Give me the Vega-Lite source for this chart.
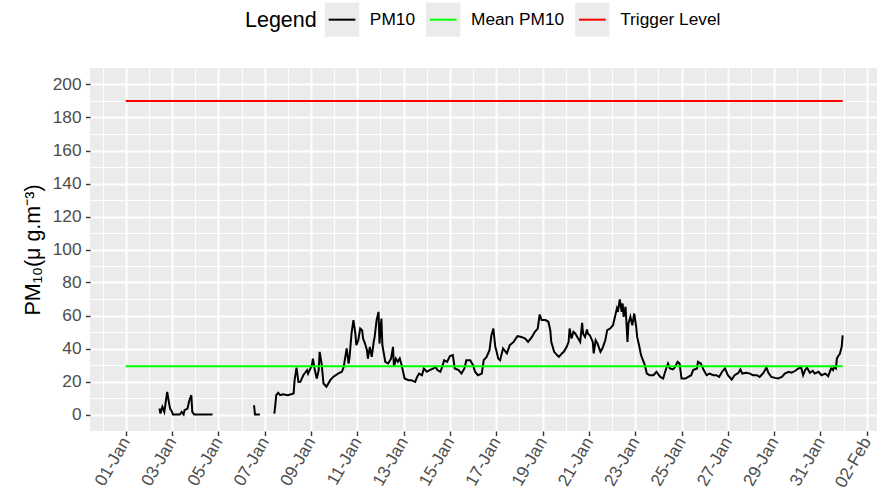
{
  "$schema": "https://vega.github.io/schema/vega-lite/v6.json",
  "autosize": {"type": "none"},
  "width": 787,
  "height": 363,
  "padding": {"left": 90, "top": 68, "right": 0, "bottom": 66},
  "background": "white",
  "config": {
    "font": "Liberation Sans",
    "view": {"fill": "#EBEBEB", "stroke": null}
  },
  "data": {"values": [
      {"t":"2021-01-02T11:00","v":3.6,"series":"PM10","seg":"a"},
      {"t":"2021-01-02T12:00","v":0.6,"series":"PM10","seg":"a"},
      {"t":"2021-01-02T14:00","v":4.6,"series":"PM10","seg":"a"},
      {"t":"2021-01-02T16:00","v":1.6,"series":"PM10","seg":"a"},
      {"t":"2021-01-02T18:00","v":9.7,"series":"PM10","seg":"a"},
      {"t":"2021-01-02T19:00","v":13.7,"series":"PM10","seg":"a"},
      {"t":"2021-01-02T21:00","v":6.6,"series":"PM10","seg":"a"},
      {"t":"2021-01-02T22:00","v":3.6,"series":"PM10","seg":"a"},
      {"t":"2021-01-03T00:00","v":1.6,"series":"PM10","seg":"a"},
      {"t":"2021-01-03T01:00","v":0,"series":"PM10","seg":"a"},
      {"t":"2021-01-03T08:00","v":0,"series":"PM10","seg":"a"},
      {"t":"2021-01-03T10:00","v":1.6,"series":"PM10","seg":"a"},
      {"t":"2021-01-03T12:00","v":0,"series":"PM10","seg":"a"},
      {"t":"2021-01-03T13:00","v":2.6,"series":"PM10","seg":"a"},
      {"t":"2021-01-03T16:00","v":3.6,"series":"PM10","seg":"a"},
      {"t":"2021-01-03T18:00","v":8.6,"series":"PM10","seg":"a"},
      {"t":"2021-01-03T20:00","v":11.7,"series":"PM10","seg":"a"},
      {"t":"2021-01-03T21:00","v":1.6,"series":"PM10","seg":"a"},
      {"t":"2021-01-03T23:00","v":0,"series":"PM10","seg":"a"},
      {"t":"2021-01-04T18:00","v":0,"series":"PM10","seg":"a"},
      {"t":"2021-01-06T13:00","v":5.6,"series":"PM10","seg":"b"},
      {"t":"2021-01-06T14:00","v":0,"series":"PM10","seg":"b"},
      {"t":"2021-01-06T19:00","v":0,"series":"PM10","seg":"b"},
      {"t":"2021-01-07T10:00","v":0.6,"series":"PM10","seg":"c"},
      {"t":"2021-01-07T11:00","v":5.6,"series":"PM10","seg":"c"},
      {"t":"2021-01-07T12:00","v":11.7,"series":"PM10","seg":"c"},
      {"t":"2021-01-07T14:00","v":13.1,"series":"PM10","seg":"c"},
      {"t":"2021-01-07T16:00","v":11.7,"series":"PM10","seg":"c"},
      {"t":"2021-01-07T19:00","v":12.3,"series":"PM10","seg":"c"},
      {"t":"2021-01-08T00:00","v":11.7,"series":"PM10","seg":"c"},
      {"t":"2021-01-08T06:00","v":12.7,"series":"PM10","seg":"c"},
      {"t":"2021-01-08T07:00","v":20.7,"series":"PM10","seg":"c"},
      {"t":"2021-01-08T09:00","v":28.4,"series":"PM10","seg":"c"},
      {"t":"2021-01-08T11:00","v":19.7,"series":"PM10","seg":"c"},
      {"t":"2021-01-08T13:00","v":19.8,"series":"PM10","seg":"c"},
      {"t":"2021-01-08T16:00","v":23.8,"series":"PM10","seg":"c"},
      {"t":"2021-01-08T20:00","v":26.9,"series":"PM10","seg":"c"},
      {"t":"2021-01-08T21:00","v":24.8,"series":"PM10","seg":"c"},
      {"t":"2021-01-09T01:00","v":29.9,"series":"PM10","seg":"c"},
      {"t":"2021-01-09T02:00","v":33.9,"series":"PM10","seg":"c"},
      {"t":"2021-01-09T04:00","v":26.9,"series":"PM10","seg":"c"},
      {"t":"2021-01-09T06:00","v":21.8,"series":"PM10","seg":"c"},
      {"t":"2021-01-09T08:00","v":26.9,"series":"PM10","seg":"c"},
      {"t":"2021-01-09T09:00","v":38,"series":"PM10","seg":"c"},
      {"t":"2021-01-09T11:00","v":30.9,"series":"PM10","seg":"c"},
      {"t":"2021-01-09T13:00","v":18.8,"series":"PM10","seg":"c"},
      {"t":"2021-01-09T16:00","v":16.8,"series":"PM10","seg":"c"},
      {"t":"2021-01-09T20:00","v":20.8,"series":"PM10","seg":"c"},
      {"t":"2021-01-09T23:00","v":22.8,"series":"PM10","seg":"c"},
      {"t":"2021-01-10T04:00","v":24.8,"series":"PM10","seg":"c"},
      {"t":"2021-01-10T08:00","v":25.9,"series":"PM10","seg":"c"},
      {"t":"2021-01-10T10:00","v":28.9,"series":"PM10","seg":"c"},
      {"t":"2021-01-10T11:00","v":32.9,"series":"PM10","seg":"c"},
      {"t":"2021-01-10T13:00","v":40,"series":"PM10","seg":"c"},
      {"t":"2021-01-10T15:00","v":30.9,"series":"PM10","seg":"c"},
      {"t":"2021-01-10T16:00","v":34.9,"series":"PM10","seg":"c"},
      {"t":"2021-01-10T18:00","v":49,"series":"PM10","seg":"c"},
      {"t":"2021-01-10T20:00","v":57.2,"series":"PM10","seg":"c"},
      {"t":"2021-01-10T22:00","v":49,"series":"PM10","seg":"c"},
      {"t":"2021-01-10T23:00","v":42,"series":"PM10","seg":"c"},
      {"t":"2021-01-11T01:00","v":45,"series":"PM10","seg":"c"},
      {"t":"2021-01-11T03:00","v":52.1,"series":"PM10","seg":"c"},
      {"t":"2021-01-11T05:00","v":51.1,"series":"PM10","seg":"c"},
      {"t":"2021-01-11T06:00","v":46,"series":"PM10","seg":"c"},
      {"t":"2021-01-11T08:00","v":43,"series":"PM10","seg":"c"},
      {"t":"2021-01-11T10:00","v":39,"series":"PM10","seg":"c"},
      {"t":"2021-01-11T11:00","v":33.9,"series":"PM10","seg":"c"},
      {"t":"2021-01-11T13:00","v":41,"series":"PM10","seg":"c"},
      {"t":"2021-01-11T15:00","v":34.9,"series":"PM10","seg":"c"},
      {"t":"2021-01-11T17:00","v":44,"series":"PM10","seg":"c"},
      {"t":"2021-01-11T18:00","v":47,"series":"PM10","seg":"c"},
      {"t":"2021-01-11T20:00","v":57.2,"series":"PM10","seg":"c"},
      {"t":"2021-01-11T22:00","v":62.2,"series":"PM10","seg":"c"},
      {"t":"2021-01-11T23:00","v":43,"series":"PM10","seg":"c"},
      {"t":"2021-01-12T01:00","v":58.2,"series":"PM10","seg":"c"},
      {"t":"2021-01-12T02:00","v":42,"series":"PM10","seg":"c"},
      {"t":"2021-01-12T05:00","v":31.9,"series":"PM10","seg":"c"},
      {"t":"2021-01-12T08:00","v":30.9,"series":"PM10","seg":"c"},
      {"t":"2021-01-12T11:00","v":33.9,"series":"PM10","seg":"c"},
      {"t":"2021-01-12T13:00","v":41,"series":"PM10","seg":"c"},
      {"t":"2021-01-12T14:00","v":28.9,"series":"PM10","seg":"c"},
      {"t":"2021-01-12T16:00","v":33.9,"series":"PM10","seg":"c"},
      {"t":"2021-01-12T18:00","v":31.9,"series":"PM10","seg":"c"},
      {"t":"2021-01-12T20:00","v":33.9,"series":"PM10","seg":"c"},
      {"t":"2021-01-12T22:00","v":29.9,"series":"PM10","seg":"c"},
      {"t":"2021-01-13T01:00","v":21.8,"series":"PM10","seg":"c"},
      {"t":"2021-01-13T05:00","v":20.8,"series":"PM10","seg":"c"},
      {"t":"2021-01-13T08:00","v":20.8,"series":"PM10","seg":"c"},
      {"t":"2021-01-13T12:00","v":19.8,"series":"PM10","seg":"c"},
      {"t":"2021-01-13T14:00","v":22.8,"series":"PM10","seg":"c"},
      {"t":"2021-01-13T16:00","v":24.8,"series":"PM10","seg":"c"},
      {"t":"2021-01-13T19:00","v":23.8,"series":"PM10","seg":"c"},
      {"t":"2021-01-13T21:00","v":27.9,"series":"PM10","seg":"c"},
      {"t":"2021-01-14T00:00","v":25.9,"series":"PM10","seg":"c"},
      {"t":"2021-01-14T03:00","v":26.9,"series":"PM10","seg":"c"},
      {"t":"2021-01-14T07:00","v":27.9,"series":"PM10","seg":"c"},
      {"t":"2021-01-14T09:00","v":28.9,"series":"PM10","seg":"c"},
      {"t":"2021-01-14T11:00","v":26.9,"series":"PM10","seg":"c"},
      {"t":"2021-01-14T14:00","v":25.9,"series":"PM10","seg":"c"},
      {"t":"2021-01-14T16:00","v":28.9,"series":"PM10","seg":"c"},
      {"t":"2021-01-14T18:00","v":32.9,"series":"PM10","seg":"c"},
      {"t":"2021-01-14T21:00","v":31.9,"series":"PM10","seg":"c"},
      {"t":"2021-01-15T00:00","v":35.4,"series":"PM10","seg":"c"},
      {"t":"2021-01-15T03:00","v":36,"series":"PM10","seg":"c"},
      {"t":"2021-01-15T05:00","v":27.9,"series":"PM10","seg":"c"},
      {"t":"2021-01-15T09:00","v":26.9,"series":"PM10","seg":"c"},
      {"t":"2021-01-15T12:00","v":24.8,"series":"PM10","seg":"c"},
      {"t":"2021-01-15T15:00","v":27.9,"series":"PM10","seg":"c"},
      {"t":"2021-01-15T17:00","v":32.9,"series":"PM10","seg":"c"},
      {"t":"2021-01-15T21:00","v":32.9,"series":"PM10","seg":"c"},
      {"t":"2021-01-16T00:00","v":29.9,"series":"PM10","seg":"c"},
      {"t":"2021-01-16T02:00","v":25.9,"series":"PM10","seg":"c"},
      {"t":"2021-01-16T05:00","v":23.8,"series":"PM10","seg":"c"},
      {"t":"2021-01-16T09:00","v":24.8,"series":"PM10","seg":"c"},
      {"t":"2021-01-16T11:00","v":32.9,"series":"PM10","seg":"c"},
      {"t":"2021-01-16T14:00","v":34.9,"series":"PM10","seg":"c"},
      {"t":"2021-01-16T17:00","v":39,"series":"PM10","seg":"c"},
      {"t":"2021-01-16T19:00","v":48,"series":"PM10","seg":"c"},
      {"t":"2021-01-16T21:00","v":52.1,"series":"PM10","seg":"c"},
      {"t":"2021-01-16T23:00","v":41,"series":"PM10","seg":"c"},
      {"t":"2021-01-17T00:00","v":39,"series":"PM10","seg":"c"},
      {"t":"2021-01-17T02:00","v":33.9,"series":"PM10","seg":"c"},
      {"t":"2021-01-17T04:00","v":32.9,"series":"PM10","seg":"c"},
      {"t":"2021-01-17T07:00","v":40,"series":"PM10","seg":"c"},
      {"t":"2021-01-17T11:00","v":37,"series":"PM10","seg":"c"},
      {"t":"2021-01-17T14:00","v":42,"series":"PM10","seg":"c"},
      {"t":"2021-01-17T18:00","v":44,"series":"PM10","seg":"c"},
      {"t":"2021-01-17T22:00","v":47.5,"series":"PM10","seg":"c"},
      {"t":"2021-01-18T02:00","v":47,"series":"PM10","seg":"c"},
      {"t":"2021-01-18T06:00","v":46,"series":"PM10","seg":"c"},
      {"t":"2021-01-18T09:00","v":44,"series":"PM10","seg":"c"},
      {"t":"2021-01-18T13:00","v":47,"series":"PM10","seg":"c"},
      {"t":"2021-01-18T16:00","v":50.1,"series":"PM10","seg":"c"},
      {"t":"2021-01-18T19:00","v":52.1,"series":"PM10","seg":"c"},
      {"t":"2021-01-18T21:00","v":60.6,"series":"PM10","seg":"c"},
      {"t":"2021-01-18T23:00","v":57.2,"series":"PM10","seg":"c"},
      {"t":"2021-01-19T03:00","v":57.2,"series":"PM10","seg":"c"},
      {"t":"2021-01-19T06:00","v":56.2,"series":"PM10","seg":"c"},
      {"t":"2021-01-19T08:00","v":51.1,"series":"PM10","seg":"c"},
      {"t":"2021-01-19T09:00","v":44,"series":"PM10","seg":"c"},
      {"t":"2021-01-19T12:00","v":38,"series":"PM10","seg":"c"},
      {"t":"2021-01-19T15:00","v":36,"series":"PM10","seg":"c"},
      {"t":"2021-01-19T17:00","v":34.9,"series":"PM10","seg":"c"},
      {"t":"2021-01-19T20:00","v":37,"series":"PM10","seg":"c"},
      {"t":"2021-01-19T22:00","v":38,"series":"PM10","seg":"c"},
      {"t":"2021-01-20T01:00","v":41,"series":"PM10","seg":"c"},
      {"t":"2021-01-20T03:00","v":44,"series":"PM10","seg":"c"},
      {"t":"2021-01-20T04:00","v":52.1,"series":"PM10","seg":"c"},
      {"t":"2021-01-20T06:00","v":46,"series":"PM10","seg":"c"},
      {"t":"2021-01-20T08:00","v":50.1,"series":"PM10","seg":"c"},
      {"t":"2021-01-20T10:00","v":49,"series":"PM10","seg":"c"},
      {"t":"2021-01-20T12:00","v":47,"series":"PM10","seg":"c"},
      {"t":"2021-01-20T15:00","v":44,"series":"PM10","seg":"c"},
      {"t":"2021-01-20T17:00","v":55.6,"series":"PM10","seg":"c"},
      {"t":"2021-01-20T18:00","v":49,"series":"PM10","seg":"c"},
      {"t":"2021-01-20T20:00","v":47,"series":"PM10","seg":"c"},
      {"t":"2021-01-20T22:00","v":51.5,"series":"PM10","seg":"c"},
      {"t":"2021-01-20T23:00","v":49,"series":"PM10","seg":"c"},
      {"t":"2021-01-21T01:00","v":48,"series":"PM10","seg":"c"},
      {"t":"2021-01-21T04:00","v":44,"series":"PM10","seg":"c"},
      {"t":"2021-01-21T05:00","v":37,"series":"PM10","seg":"c"},
      {"t":"2021-01-21T07:00","v":45,"series":"PM10","seg":"c"},
      {"t":"2021-01-21T09:00","v":43,"series":"PM10","seg":"c"},
      {"t":"2021-01-21T12:00","v":38,"series":"PM10","seg":"c"},
      {"t":"2021-01-21T14:00","v":40,"series":"PM10","seg":"c"},
      {"t":"2021-01-21T17:00","v":45,"series":"PM10","seg":"c"},
      {"t":"2021-01-21T19:00","v":51.1,"series":"PM10","seg":"c"},
      {"t":"2021-01-21T22:00","v":52.1,"series":"PM10","seg":"c"},
      {"t":"2021-01-22T01:00","v":54.1,"series":"PM10","seg":"c"},
      {"t":"2021-01-22T03:00","v":59.2,"series":"PM10","seg":"c"},
      {"t":"2021-01-22T05:00","v":64.2,"series":"PM10","seg":"c"},
      {"t":"2021-01-22T06:00","v":62.2,"series":"PM10","seg":"c"},
      {"t":"2021-01-22T08:00","v":69.7,"series":"PM10","seg":"c"},
      {"t":"2021-01-22T10:00","v":62.2,"series":"PM10","seg":"c"},
      {"t":"2021-01-22T11:00","v":67.3,"series":"PM10","seg":"c"},
      {"t":"2021-01-22T12:00","v":59.2,"series":"PM10","seg":"c"},
      {"t":"2021-01-22T14:00","v":65.3,"series":"PM10","seg":"c"},
      {"t":"2021-01-22T16:00","v":44,"series":"PM10","seg":"c"},
      {"t":"2021-01-22T17:00","v":55.2,"series":"PM10","seg":"c"},
      {"t":"2021-01-22T19:00","v":59.2,"series":"PM10","seg":"c"},
      {"t":"2021-01-22T21:00","v":54.1,"series":"PM10","seg":"c"},
      {"t":"2021-01-22T23:00","v":61.2,"series":"PM10","seg":"c"},
      {"t":"2021-01-23T01:00","v":53.1,"series":"PM10","seg":"c"},
      {"t":"2021-01-23T02:00","v":47,"series":"PM10","seg":"c"},
      {"t":"2021-01-23T04:00","v":42,"series":"PM10","seg":"c"},
      {"t":"2021-01-23T06:00","v":36,"series":"PM10","seg":"c"},
      {"t":"2021-01-23T08:00","v":32.9,"series":"PM10","seg":"c"},
      {"t":"2021-01-23T10:00","v":29.9,"series":"PM10","seg":"c"},
      {"t":"2021-01-23T12:00","v":24.8,"series":"PM10","seg":"c"},
      {"t":"2021-01-23T15:00","v":23.8,"series":"PM10","seg":"c"},
      {"t":"2021-01-23T19:00","v":23.8,"series":"PM10","seg":"c"},
      {"t":"2021-01-23T22:00","v":25.9,"series":"PM10","seg":"c"},
      {"t":"2021-01-24T02:00","v":22.8,"series":"PM10","seg":"c"},
      {"t":"2021-01-24T05:00","v":21.8,"series":"PM10","seg":"c"},
      {"t":"2021-01-24T07:00","v":25.9,"series":"PM10","seg":"c"},
      {"t":"2021-01-24T10:00","v":30.9,"series":"PM10","seg":"c"},
      {"t":"2021-01-24T12:00","v":27.9,"series":"PM10","seg":"c"},
      {"t":"2021-01-24T15:00","v":27.3,"series":"PM10","seg":"c"},
      {"t":"2021-01-24T17:00","v":28.5,"series":"PM10","seg":"c"},
      {"t":"2021-01-24T20:00","v":31.9,"series":"PM10","seg":"c"},
      {"t":"2021-01-24T22:00","v":30.9,"series":"PM10","seg":"c"},
      {"t":"2021-01-25T00:00","v":21.8,"series":"PM10","seg":"c"},
      {"t":"2021-01-25T04:00","v":21.8,"series":"PM10","seg":"c"},
      {"t":"2021-01-25T07:00","v":22.8,"series":"PM10","seg":"c"},
      {"t":"2021-01-25T10:00","v":23.8,"series":"PM10","seg":"c"},
      {"t":"2021-01-25T12:00","v":26.9,"series":"PM10","seg":"c"},
      {"t":"2021-01-25T16:00","v":27.9,"series":"PM10","seg":"c"},
      {"t":"2021-01-25T17:00","v":31.9,"series":"PM10","seg":"c"},
      {"t":"2021-01-25T20:00","v":30.9,"series":"PM10","seg":"c"},
      {"t":"2021-01-25T23:00","v":26.9,"series":"PM10","seg":"c"},
      {"t":"2021-01-26T02:00","v":23.8,"series":"PM10","seg":"c"},
      {"t":"2021-01-26T05:00","v":24.8,"series":"PM10","seg":"c"},
      {"t":"2021-01-26T09:00","v":23.8,"series":"PM10","seg":"c"},
      {"t":"2021-01-26T12:00","v":23.8,"series":"PM10","seg":"c"},
      {"t":"2021-01-26T15:00","v":22.8,"series":"PM10","seg":"c"},
      {"t":"2021-01-26T18:00","v":25.9,"series":"PM10","seg":"c"},
      {"t":"2021-01-26T21:00","v":27.9,"series":"PM10","seg":"c"},
      {"t":"2021-01-27T00:00","v":23.8,"series":"PM10","seg":"c"},
      {"t":"2021-01-27T04:00","v":21.2,"series":"PM10","seg":"c"},
      {"t":"2021-01-27T07:00","v":23.8,"series":"PM10","seg":"c"},
      {"t":"2021-01-27T11:00","v":25.3,"series":"PM10","seg":"c"},
      {"t":"2021-01-27T13:00","v":27.3,"series":"PM10","seg":"c"},
      {"t":"2021-01-27T15:00","v":24.8,"series":"PM10","seg":"c"},
      {"t":"2021-01-27T19:00","v":25.3,"series":"PM10","seg":"c"},
      {"t":"2021-01-27T23:00","v":24.8,"series":"PM10","seg":"c"},
      {"t":"2021-01-28T02:00","v":23.8,"series":"PM10","seg":"c"},
      {"t":"2021-01-28T06:00","v":23.8,"series":"PM10","seg":"c"},
      {"t":"2021-01-28T09:00","v":22.8,"series":"PM10","seg":"c"},
      {"t":"2021-01-28T13:00","v":25.3,"series":"PM10","seg":"c"},
      {"t":"2021-01-28T16:00","v":28.5,"series":"PM10","seg":"c"},
      {"t":"2021-01-28T18:00","v":25.3,"series":"PM10","seg":"c"},
      {"t":"2021-01-28T21:00","v":22.8,"series":"PM10","seg":"c"},
      {"t":"2021-01-29T01:00","v":22.2,"series":"PM10","seg":"c"},
      {"t":"2021-01-29T04:00","v":21.8,"series":"PM10","seg":"c"},
      {"t":"2021-01-29T08:00","v":22.8,"series":"PM10","seg":"c"},
      {"t":"2021-01-29T11:00","v":24.8,"series":"PM10","seg":"c"},
      {"t":"2021-01-29T15:00","v":25.9,"series":"PM10","seg":"c"},
      {"t":"2021-01-29T18:00","v":25.3,"series":"PM10","seg":"c"},
      {"t":"2021-01-29T22:00","v":26.5,"series":"PM10","seg":"c"},
      {"t":"2021-01-30T01:00","v":27.9,"series":"PM10","seg":"c"},
      {"t":"2021-01-30T04:00","v":28.5,"series":"PM10","seg":"c"},
      {"t":"2021-01-30T06:00","v":23.8,"series":"PM10","seg":"c"},
      {"t":"2021-01-30T08:00","v":26.9,"series":"PM10","seg":"c"},
      {"t":"2021-01-30T10:00","v":28.5,"series":"PM10","seg":"c"},
      {"t":"2021-01-30T13:00","v":25.3,"series":"PM10","seg":"c"},
      {"t":"2021-01-30T16:00","v":26.5,"series":"PM10","seg":"c"},
      {"t":"2021-01-30T18:00","v":24.8,"series":"PM10","seg":"c"},
      {"t":"2021-01-30T22:00","v":25.9,"series":"PM10","seg":"c"},
      {"t":"2021-01-31T01:00","v":23.8,"series":"PM10","seg":"c"},
      {"t":"2021-01-31T05:00","v":24.8,"series":"PM10","seg":"c"},
      {"t":"2021-01-31T08:00","v":23.2,"series":"PM10","seg":"c"},
      {"t":"2021-01-31T11:00","v":27.9,"series":"PM10","seg":"c"},
      {"t":"2021-01-31T13:00","v":26.9,"series":"PM10","seg":"c"},
      {"t":"2021-01-31T14:00","v":28.9,"series":"PM10","seg":"c"},
      {"t":"2021-01-31T16:00","v":27.9,"series":"PM10","seg":"c"},
      {"t":"2021-01-31T17:00","v":33.9,"series":"PM10","seg":"c"},
      {"t":"2021-01-31T19:00","v":36,"series":"PM10","seg":"c"},
      {"t":"2021-01-31T20:00","v":36.6,"series":"PM10","seg":"c"},
      {"t":"2021-01-31T22:00","v":41,"series":"PM10","seg":"c"},
      {"t":"2021-01-31T23:00","v":48,"series":"PM10","seg":"c"},
      {"t":"2021-01-01T00:00","v":29.3,"series":"Mean PM10","seg":"m"},
      {"t":"2021-01-31T23:00","v":29.3,"series":"Mean PM10","seg":"m"},
      {"t":"2021-01-01T00:00","v":190,"series":"Trigger Level","seg":"r"},
      {"t":"2021-01-31T23:00","v":190,"series":"Trigger Level","seg":"r"}
  ]},
  "mark": {"type": "line", "strokeWidth": 2, "interpolate": "linear"},
  "encoding": {
    "x": {
      "field": "t",
      "type": "temporal",
      "scale": {"domain": [{"year": 2020, "month": 12, "date": 30, "hours": 11}, {"year": 2021, "month": 2, "date": 2, "hours": 10, "minutes": 34}]},
      "axis": {
        "title": null,
        "domain": false,
        "values": [
          {"year":2020,"month":12,"date":31},
          {"year":2021,"month":1,"date":1},{"year":2021,"month":1,"date":2},{"year":2021,"month":1,"date":3},{"year":2021,"month":1,"date":4},
          {"year":2021,"month":1,"date":5},{"year":2021,"month":1,"date":6},{"year":2021,"month":1,"date":7},{"year":2021,"month":1,"date":8},
          {"year":2021,"month":1,"date":9},{"year":2021,"month":1,"date":10},{"year":2021,"month":1,"date":11},{"year":2021,"month":1,"date":12},
          {"year":2021,"month":1,"date":13},{"year":2021,"month":1,"date":14},{"year":2021,"month":1,"date":15},{"year":2021,"month":1,"date":16},
          {"year":2021,"month":1,"date":17},{"year":2021,"month":1,"date":18},{"year":2021,"month":1,"date":19},{"year":2021,"month":1,"date":20},
          {"year":2021,"month":1,"date":21},{"year":2021,"month":1,"date":22},{"year":2021,"month":1,"date":23},{"year":2021,"month":1,"date":24},
          {"year":2021,"month":1,"date":25},{"year":2021,"month":1,"date":26},{"year":2021,"month":1,"date":27},{"year":2021,"month":1,"date":28},
          {"year":2021,"month":1,"date":29},{"year":2021,"month":1,"date":30},{"year":2021,"month":1,"date":31},
          {"year":2021,"month":2,"date":1},{"year":2021,"month":2,"date":2}
        ],
        "format": "%d-%b",
        "labelExpr": "(month(datum.value) === 0 ? date(datum.value) % 2 === 1 : (month(datum.value) === 1 && date(datum.value) === 2)) ? datum.label : ''",
        "labelAngle": -60,
        "labelAlign": "right",
        "labelBaseline": "middle",
        "labelFontSize": 17.3,
        "labelColor": "#4D4D4D",
        "labelPadding": 3,
        "labelOverlap": false,
        "labelFlush": false,
        "labelBound": false,
        "tickSize": 4.5,
        "tickWidth": 1.4,
        "tickColor": "#333333",
        "tickOpacity": {"condition": {"test": "month(datum.value) === 0 ? date(datum.value) % 2 === 1 : (month(datum.value) === 1 && date(datum.value) === 2)", "value": 1}, "value": 0},
        "grid": true,
        "gridColor": "#FFFFFF",
        "gridWidth": {"condition": {"test": "month(datum.value) === 0 ? date(datum.value) % 2 === 1 : (month(datum.value) === 1 && date(datum.value) === 2)", "value": 1.9}, "value": 0.95}
      }
    },
    "y": {
      "field": "v",
      "type": "quantitative",
      "scale": {"domain": [-10, 210], "nice": false, "zero": false},
      "axis": {
        "title": "PM₁₀(μ g.m⁻³)",
        "titleFontSize": 21.5,
        "titleFontWeight": "normal",
        "titleColor": "#000000",
        "titlePadding": 8,
        "domain": false,
        "values": [0,10,20,30,40,50,60,70,80,90,100,110,120,130,140,150,160,170,180,190,200],
        "labelExpr": "datum.value % 20 === 0 ? datum.label : ''",
        "labelFontSize": 17.3,
        "labelColor": "#4D4D4D",
        "labelPadding": 4.5,
        "labelOverlap": false,
        "labelFlush": false,
        "tickSize": 4.5,
        "tickWidth": 1.4,
        "tickColor": "#333333",
        "tickOpacity": {"condition": {"test": "datum.value % 20 === 0", "value": 1}, "value": 0},
        "grid": true,
        "gridColor": "#FFFFFF",
        "gridWidth": {"condition": {"test": "datum.value % 20 === 0", "value": 1.9}, "value": 0.95}
      }
    },
    "detail": {"field": "seg", "type": "nominal"},
    "stroke": {
      "field": "series",
      "type": "nominal",
      "scale": {"domain": ["PM10", "Mean PM10", "Trigger Level"], "range": ["#000000", "#00FF00", "#FF0000"]},
      "legend": {
        "title": "Legend",
        "orient": "none",
        "legendX": 155,
        "legendY": -67,
        "direction": "horizontal",
        "padding": 0,
        "titleOrient": "left",
        "titleAnchor": "middle",
        "titleBaseline": "middle",
        "titleFontSize": 21.5,
        "titleFontWeight": "normal",
        "titleColor": "#000000",
        "titlePadding": 6.5,
        "labelFontSize": 17.3,
        "labelColor": "#000000",
        "labelOffset": 9.35,
        "columnPadding": 6.15,
        "symbolType": "M-0.778,0H0.778H1V1H-1V-1H1V0Z",
        "symbolSize": 1176,
        "symbolStrokeWidth": 2,
        "symbolDash": [26.7, 1000],
        "symbolFillColor": "#EBEBEB",
        "symbolOpacity": 1
      }
    }
  }
}
